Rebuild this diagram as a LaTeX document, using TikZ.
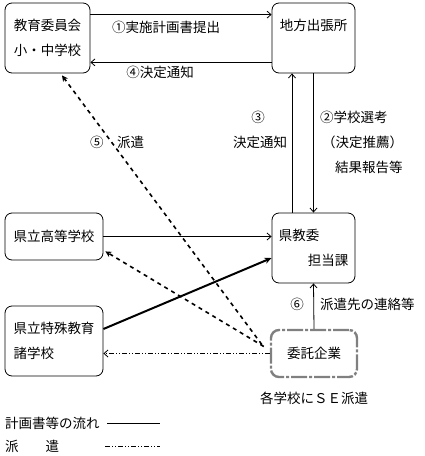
\documentclass[tikz,border=0pt]{standalone}
\usepackage{fontspec}
\setmainfont{Noto Sans CJK JP}
\usepackage{tikz}
\usetikzlibrary{arrows.meta,positioning,calc}
\definecolor{hkline}{HTML}{000000}
\definecolor{hkgray}{HTML}{808080}
\tikzset{
  box/.style={rectangle, rounded corners=7pt, draw=hkline, line width=0.8pt,
              align=center, font=\fontsize{13.5}{25}\selectfont, inner sep=0pt},
  itakubox/.style={rectangle, rounded corners=8pt, draw=hkgray, line width=2.4pt,
              dash pattern=on 16pt off 2pt on 3pt off 2pt,
              align=center, font=\fontsize{13.5}{25}\selectfont, inner sep=0pt},
  lbl/.style={font=\fontsize{13.5}{16}\selectfont, inner sep=0pt},
  ar/.style={-{Straight Barb[length=4pt,width=7pt]}, draw=hkline, line width=0.8pt},
  thk/.style={-{Stealth[length=7pt,width=6pt]}, draw=hkline, line width=2pt},
  haken/.style={-{Stealth[length=6pt,width=6pt]}, draw=hkline, line width=1.6pt,
                dash pattern=on 4pt off 4pt},
  hakenline/.style={draw=hkline, line width=0.8pt,
                dash pattern=on 5pt off 2pt on 1pt off 2pt on 1pt off 2pt},
}
\begin{document}
\begin{tikzpicture}[x=1pt,y=-1pt]
\useasboundingbox (0,0) rectangle (425,456);
% boxes
\node[box,minimum width=85pt,minimum height=70pt] (kyoi) at (47.5,38) {教育委員会\\小・中学校};
\node[box,minimum width=83pt,minimum height=70pt] (chiho) at (313.5,38) {地方出張所\\\phantom{地}};
\node[box,minimum width=98pt,minimum height=47pt] (koto) at (54,236.5) {県立高等学校};
\node[box,minimum width=83pt,minimum height=70pt,align=left] (kenkyo) at (313.5,248) {県教委\\\hspace{29pt}担当課};
\node[box,minimum width=98pt,minimum height=70pt,align=left] (tokushu) at (54,341) {県立特殊教育\\諸学校};
\node[itakubox,minimum width=86pt,minimum height=47pt] (itaku) at (314,353.5) {委託企業};

% labels
\node[lbl] (l1) at (166,27) {①実施計画書提出};
\node[lbl] (l4) at (160,72) {④決定通知};
\node[lbl] (l3a) at (258,117) {③};
\node[lbl] (l3b) at (260,142) {決定通知};
\node[lbl,anchor=west] (l2a) at (320,117) {②学校選考};
\node[lbl,anchor=west] (l2b) at (322,142) {（決定推薦）};
\node[lbl,anchor=west] (l2c) at (335,167) {結果報告等};
\node[lbl,anchor=west] (l5) at (90,142) {⑤　派遣};
\node[lbl] (l6a) at (297,304) {⑥};
\node[lbl,anchor=west] (l6b) at (320,304) {派遣先の連絡等};
\node[lbl] (lse) at (314,398) {各学校にＳＥ派遣};

% legend
\node[lbl,anchor=west] (lg1) at (5,423) {計画書等の流れ};
\node[lbl,anchor=west] (lg2) at (5,446) {派　　遣};
\coordinate (lg1a) at (107,423);
\coordinate (lg1b) at (160,423);
\coordinate (lg2a) at (105,446);
\coordinate (lg2b) at (160,446);
\draw[draw=hkline,line width=0.8pt] (lg1a) -- (lg1b);
\draw[hakenline] (lg2a) -- (lg2b);

% connectors
\draw[ar] ([yshift=-12pt]kyoi.north east) -- ([yshift=-12pt]chiho.north west);
\draw[ar] ([yshift=11pt]chiho.south west) -- ([yshift=11pt]kyoi.south east);
\draw[ar] ([xshift=-21.5pt]kenkyo.north) -- ([xshift=-21.5pt]chiho.south);
\draw[ar] (chiho.south) -- (kenkyo.north);
\draw[ar] (koto.east) -- (kenkyo.west |- koto.east);
\draw[thk] ([yshift=12pt]tokushu.east) -- ([yshift=-10pt]kenkyo.west);
\draw[ar,{Straight Barb[length=4pt,width=7pt]}-] (kenkyo.south) -- (itaku.north);
\draw[hakenline,-{Straight Barb[length=4pt,width=7pt]}] (itaku.west) -- (tokushu.east |- itaku.west);
\draw[haken] ([xshift=-8pt,yshift=9pt]itaku.west) -- ([xshift=14.5pt,yshift=-2pt]kyoi.south);
\draw[haken] ([xshift=-6pt,yshift=7pt]itaku.west) -- ([xshift=2pt,yshift=9pt]koto.south east);
\end{tikzpicture}
\end{document}
